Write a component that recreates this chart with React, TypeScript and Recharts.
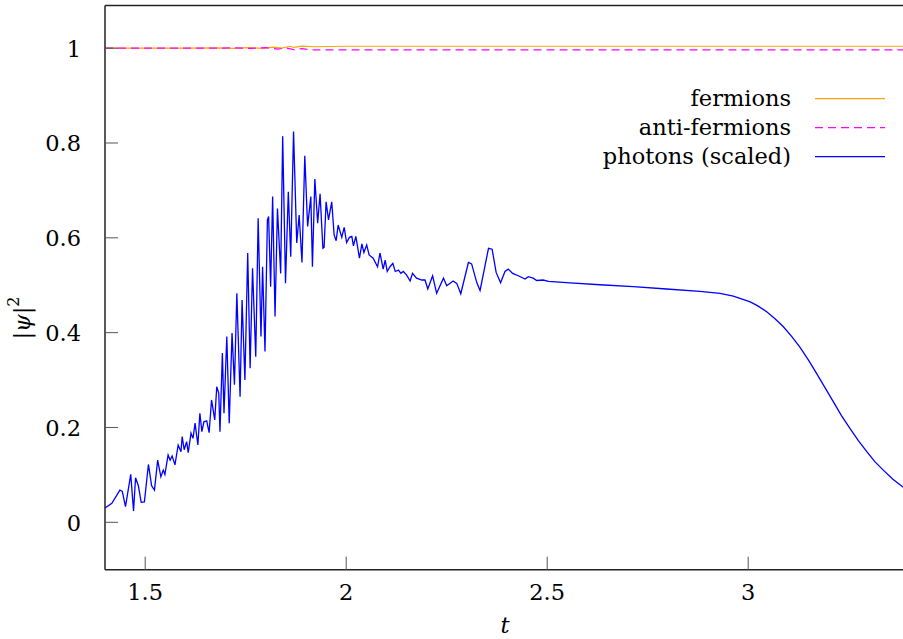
import { LineChart, Line, XAxis, YAxis, Legend } from 'recharts'

const T_DOMAIN = [1.4, 3.4]
const PSI_DOMAIN = [-0.1, 1.09]
const T_TICKS = [1.5, 2, 2.5, 3]
const PSI_TICKS = [0, 0.2, 0.4, 0.6, 0.8, 1]

const fermionT = [1.4, 1.6, 1.68, 1.72, 1.76, 1.79, 1.82, 1.84, 1.86, 1.87, 1.89, 1.92, 2.0, 3.4]
const fermionV = [1.0, 1.0, 1.0005, 0.9995, 1.0012, 0.9995, 1.002, 1.0, 1.004, 1.0015, 1.0045, 1.003, 1.004, 1.004]

const antiT = [1.4, 1.65, 1.72, 1.76, 1.8, 1.83, 1.85, 1.87, 1.89, 1.91, 2.0, 3.4]
const antiV = [1.0, 1.0, 1.0005, 0.9995, 1.001, 0.998, 1.0005, 0.997, 0.999, 0.9965, 0.9965, 0.9963]

const photonT = [
  1.4, 1.417, 1.437, 1.443, 1.451, 1.464, 1.471, 1.476, 1.483, 1.49, 1.498, 1.508, 1.516, 1.523,
  1.531, 1.539, 1.545, 1.549, 1.557, 1.562, 1.567, 1.574, 1.582, 1.589, 1.592, 1.597, 1.603,
  1.607, 1.614, 1.619, 1.624, 1.631, 1.636, 1.641, 1.646, 1.653, 1.659, 1.665, 1.673, 1.678,
  1.683, 1.686, 1.692, 1.696, 1.703, 1.709, 1.716, 1.722, 1.728, 1.736, 1.741, 1.748, 1.755,
  1.761, 1.767, 1.775, 1.781, 1.788, 1.792, 1.798, 1.804, 1.807, 1.812, 1.817, 1.823, 1.829,
  1.837, 1.842, 1.849, 1.856, 1.862, 1.869, 1.877, 1.883, 1.89, 1.897, 1.904, 1.912, 1.916,
  1.922, 1.929, 1.935, 1.942, 1.945, 1.95, 1.956, 1.964, 1.97, 1.975, 1.98, 1.989, 1.995,
  2.001, 2.008, 2.014, 2.018, 2.024, 2.033, 2.039, 2.044, 2.051, 2.057, 2.067, 2.078, 2.084,
  2.092, 2.097, 2.102, 2.109, 2.116, 2.122, 2.13, 2.136, 2.142, 2.15, 2.159, 2.165, 2.175,
  2.188, 2.196, 2.203, 2.215, 2.225, 2.242, 2.25, 2.266, 2.275, 2.285, 2.304, 2.312, 2.325,
  2.333, 2.354, 2.363, 2.373, 2.384, 2.395, 2.403, 2.414, 2.428, 2.445, 2.453, 2.465, 2.474,
  2.49, 2.503, 2.557, 2.631, 2.714, 2.797, 2.88, 2.93, 2.963, 3.005, 3.025, 3.046, 3.066,
  3.087, 3.108, 3.129, 3.15, 3.17, 3.191, 3.212, 3.232, 3.253, 3.274, 3.295, 3.315, 3.336,
  3.36, 3.384, 3.4,
]
const photonV = [
  0.03, 0.04, 0.068, 0.065, 0.033, 0.101, 0.024, 0.094, 0.077, 0.042, 0.043, 0.122, 0.077, 0.068,
  0.131, 0.096, 0.11, 0.101, 0.142, 0.131, 0.14, 0.121, 0.163, 0.149, 0.181, 0.153, 0.17,
  0.147, 0.188, 0.177, 0.209, 0.163, 0.23, 0.191, 0.212, 0.214, 0.189, 0.258, 0.216, 0.286,
  0.272, 0.191, 0.357, 0.23, 0.392, 0.209, 0.399, 0.29, 0.483, 0.265, 0.469, 0.3, 0.568,
  0.325, 0.536, 0.349, 0.641, 0.392, 0.539, 0.36, 0.638, 0.645, 0.497, 0.687, 0.434, 0.662,
  0.525, 0.814, 0.504, 0.697, 0.56, 0.824, 0.589, 0.648, 0.548, 0.773, 0.624, 0.687, 0.539,
  0.724, 0.631, 0.693, 0.578, 0.58, 0.676, 0.638, 0.676, 0.606, 0.594, 0.627, 0.601, 0.622,
  0.59, 0.601, 0.603, 0.583, 0.603, 0.557, 0.587, 0.569, 0.585, 0.564, 0.557, 0.539, 0.568,
  0.534, 0.553, 0.529, 0.539, 0.546, 0.529, 0.532, 0.525, 0.529, 0.522, 0.509, 0.525, 0.515,
  0.511, 0.511, 0.492, 0.52, 0.483, 0.515, 0.499, 0.509, 0.504, 0.482, 0.548, 0.545, 0.505,
  0.489, 0.578, 0.576, 0.527, 0.505, 0.529, 0.534, 0.525, 0.52, 0.513, 0.518, 0.515, 0.51,
  0.511, 0.508, 0.505, 0.501, 0.497, 0.492, 0.487, 0.483, 0.477, 0.465, 0.456, 0.444, 0.43,
  0.413, 0.392, 0.369, 0.342, 0.314, 0.284, 0.254, 0.225, 0.198, 0.172, 0.149, 0.128, 0.11,
  0.091, 0.075, 0.066,
]

const SERIES = [
  { name: 'fermions', color: '#ffa500', dash: undefined as string | undefined },
  { name: 'anti-fermions', color: '#ff00ff', dash: '8 5' },
  { name: 'photons (scaled)', color: '#0000ff', dash: undefined as string | undefined },
]

const toRows = (ts: number[], vs: number[]) => ts.map((t, i) => ({ t, v: vs[i] }))

const TEXT_STYLE = { fontFamily: "'DejaVu Serif', 'Liberation Serif', serif", fontSize: 22.5 }
const TICK_LEN = 13
const TICK_COLOR = '#555'

const fmt = (v: number) => String(v)

function BottomTick({ x, y, payload }: any) {
  return (
    <g>
      <line x1={x} x2={x} y1={y} y2={y - TICK_LEN} stroke={TICK_COLOR} />
      <text x={x} y={y + 30} textAnchor="middle" style={TEXT_STYLE} fill="#000">
        {fmt(payload.value)}
      </text>
    </g>
  )
}
function TopTick({ x, y }: any) {
  return <line x1={x} x2={x} y1={y} y2={y + TICK_LEN} stroke={TICK_COLOR} />
}
function LeftTick({ x, y, payload }: any) {
  return (
    <g>
      <line x1={x} x2={x + TICK_LEN} y1={y} y2={y} stroke={TICK_COLOR} />
      <text x={x - 24} y={y + 8.5} textAnchor="end" style={TEXT_STYLE} fill="#000">
        {fmt(payload.value)}
      </text>
    </g>
  )
}
function RightTick({ x, y }: any) {
  return <line x1={x} x2={x - TICK_LEN} y1={y} y2={y} stroke={TICK_COLOR} />
}

function LegendBox() {
  return (
    <svg width={340} height={95} style={{ display: 'block' }}>
      {SERIES.map((s, i) => {
        const rowY = 18.7 + i * 29
        return (
          <g key={s.name}>
            <text x={231} y={rowY + 7.5} textAnchor="end" style={TEXT_STYLE} fill="#000">
              {s.name}
            </text>
            <line x1={255} x2={325} y1={rowY} y2={rowY} stroke={s.color} strokeWidth={1.2} strokeDasharray={s.dash} />
          </g>
        )
      })}
    </svg>
  )
}

const AXIS_LINE = { stroke: '#222', strokeWidth: 1.5 }

export default function App() {
  const fermions = toRows(fermionT, fermionV)
  const anti = toRows(antiT, antiV)
  const photons = toRows(photonT, photonV)

  return (
    <div style={{ width: 903, height: 639, overflow: 'hidden', position: 'relative', background: '#fff' }}>
      <style>{'body{margin:0;overflow:hidden}'}</style>
      <LineChart width={915} height={639} margin={{ top: 4.5, right: 5, bottom: 68.3, left: 104 }}>
        <XAxis
          dataKey="t"
          type="number"
          domain={T_DOMAIN}
          ticks={T_TICKS}
          interval={0}
          height={1}
          tickSize={0}
          tickMargin={0}
          tickLine={false}
          axisLine={AXIS_LINE}
          tick={<BottomTick />}
          label={(props: any) => {
            const vb = props.viewBox || { x: 105, y: 569.7, width: 804 }
            return (
              <text
                x={vb.x + vb.width / 2 - 2}
                y={vb.y + 63}
                textAnchor="middle"
                style={{ ...TEXT_STYLE, fontStyle: 'italic' }}
                fill="#000"
              >
                t
              </text>
            )
          }}
        />
        <XAxis
          xAxisId="top"
          orientation="top"
          dataKey="t"
          type="number"
          domain={T_DOMAIN}
          ticks={T_TICKS}
          interval={0}
          height={1}
          tickSize={0}
          tickMargin={0}
          tickLine={false}
          axisLine={AXIS_LINE}
          tick={<TopTick />}
        />
        <YAxis
          type="number"
          domain={PSI_DOMAIN}
          ticks={PSI_TICKS}
          interval={0}
          width={1}
          tickSize={0}
          tickMargin={0}
          tickLine={false}
          axisLine={AXIS_LINE}
          tick={<LeftTick />}
          label={() => (
            <text
              transform="rotate(-90, 22, 318)"
              x={22}
              y={318}
              textAnchor="middle"
              dominantBaseline="central"
              style={TEXT_STYLE}
              fill="#000"
            >
              |<tspan fontStyle="italic">ψ</tspan>|
              <tspan fontSize={16} dy={-9}>2</tspan>
            </text>
          )}
        />
        <YAxis
          yAxisId="right"
          orientation="right"
          type="number"
          domain={PSI_DOMAIN}
          ticks={PSI_TICKS}
          interval={0}
          width={1}
          tickSize={0}
          tickMargin={0}
          tickLine={false}
          axisLine={AXIS_LINE}
          tick={<RightTick />}
        />
        <Legend
          layout="horizontal"
          verticalAlign="middle"
          align="center"
          wrapperStyle={{ position: 'absolute', left: 560, top: 80, width: 340, height: 95 }}
          content={() => <LegendBox />}
        />
        <Line
          data={fermions}
          dataKey="v"
          name={SERIES[0].name}
          type="linear"
          stroke={SERIES[0].color}
          strokeWidth={1.2}
          dot={false}
          activeDot={false}
          isAnimationActive={false}
        />
        <Line
          data={anti}
          dataKey="v"
          name={SERIES[1].name}
          type="linear"
          stroke={SERIES[1].color}
          strokeDasharray={SERIES[1].dash}
          strokeWidth={1.2}
          dot={false}
          activeDot={false}
          isAnimationActive={false}
        />
        <Line
          data={photons}
          dataKey="v"
          name={SERIES[2].name}
          type="linear"
          stroke={SERIES[2].color}
          strokeWidth={1.3}
          dot={false}
          activeDot={false}
          isAnimationActive={false}
        />
      </LineChart>
    </div>
  )
}
